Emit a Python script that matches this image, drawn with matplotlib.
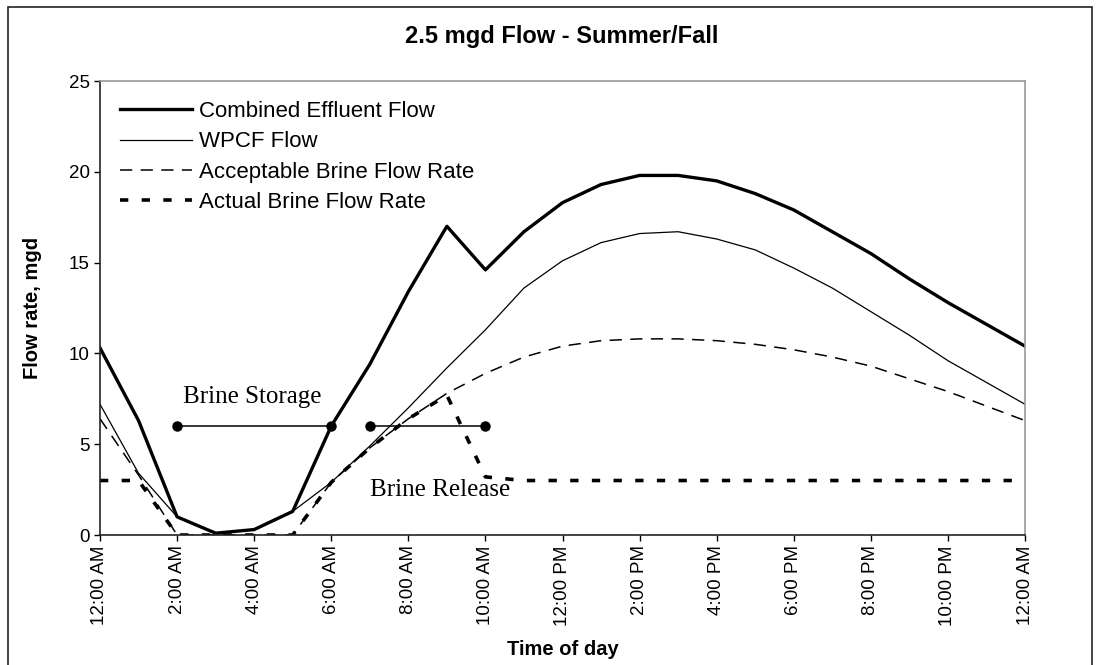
import matplotlib
matplotlib.use('Agg')
import matplotlib.pyplot as plt
from matplotlib.patches import Rectangle

plt.rcParams['font.family'] = ['Liberation Sans', 'DejaVu Sans']

# 数据: 每小时流量 (mgd)
hours = list(range(25))
combined_flow = [10.3, 6.3, 1.0, 0.1, 0.3, 1.3, 6.0, 9.4, 13.4, 17.0, 14.6, 16.7, 18.3,
                 19.3, 19.8, 19.8, 19.5, 18.8, 17.9, 16.7, 15.5, 14.1, 12.8, 11.6, 10.4]
wpcf_flow = [7.2, 3.4, 1.0, 0.1, 0.3, 1.3, 2.9, 4.9, 7.0, 9.2, 11.3, 13.6, 15.1,
             16.1, 16.6, 16.7, 16.3, 15.7, 14.7, 13.6, 12.3, 11.0, 9.6, 8.4, 7.2]
acceptable_brine = [6.4, 3.3, 0.0, 0.0, 0.0, 0.0, 2.9, 4.8, 6.4, 7.8, 8.9, 9.8, 10.4,
                    10.7, 10.8, 10.8, 10.7, 10.5, 10.2, 9.8, 9.3, 8.6, 7.9, 7.1, 6.3]
actual_brine = [3.0, 3.0, 0.0, 0.0, 0.0, 0.0, 2.9, 4.8, 6.4, 7.7, 3.2, 3.0, 3.0,
                3.0, 3.0, 3.0, 3.0, 3.0, 3.0, 3.0, 3.0, 3.0, 3.0, 3.0, 3.0]

tick_hours = list(range(0, 25, 2))
tick_labels = ['12:00 AM', '2:00 AM', '4:00 AM', '6:00 AM', '8:00 AM', '10:00 AM',
               '12:00 PM', '2:00 PM', '4:00 PM', '6:00 PM', '8:00 PM', '10:00 PM', '12:00 AM']

# 储存 / 释放 区间
storage_span = [2, 6]
release_span = [7, 10]
span_level = 6

fig = plt.figure(figsize=(10.97, 6.65), dpi=100)
ax = fig.add_axes([100 / 1097, 1 - 535 / 665, 925 / 1097, 454 / 665])

ax.plot(hours, combined_flow, color='black', lw=2.4, label='Combined Effluent Flow')
ax.plot(hours, wpcf_flow, color='black', lw=0.9, label='WPCF Flow')
ax.plot(hours, acceptable_brine, color='black', lw=1.1, dashes=(8, 5.5),
        label='Acceptable Brine Flow Rate')
ax.plot(hours, actual_brine, color='black', lw=2.6, dashes=(2.3, 3.7),
        label='Actual Brine Flow Rate')

# 标注线
for span in (storage_span, release_span):
    ax.plot(span, [span_level, span_level], color='black', lw=1.1,
            marker='o', markersize=6.5, zorder=5)
ax.text(3.95, 7.6, 'Brine Storage', family='Liberation Serif', fontsize=18,
        ha='center', va='center')
ax.text(8.82, 2.48, 'Brine Release', family='Liberation Serif', fontsize=18,
        ha='center', va='center')

# 坐标轴
ax.set_xlim(0, 24)
ax.set_ylim(0, 25)
ax.set_xticks(tick_hours)
ax.set_xticklabels(tick_labels, rotation=90, fontsize=13.5)
ax.set_yticks(range(0, 26, 5))
ax.tick_params(axis='y', labelsize=13.5, direction='out', length=4, width=1)
ax.tick_params(axis='x', direction='out', length=4, width=1)
for side in ['left', 'bottom']:
    ax.spines[side].set_color('#222222')
    ax.spines[side].set_linewidth(1.2)
for side in ['top', 'right']:
    ax.spines[side].set_color('#999999')
    ax.spines[side].set_linewidth(1.2)

ax.set_xlabel('Time of day', fontsize=14.5, fontweight='bold')
ax.set_ylabel('Flow rate, mgd', fontsize=14.5, fontweight='bold')
ax.xaxis.set_label_coords(0.5, -0.231)
ax.yaxis.set_label_coords(-0.0627, 0.5)

fig.text(562 / 1097, 1 - 37 / 665, '2.5 mgd Flow - Summer/Fall', fontsize=17,
         fontweight='bold', ha='center', va='center')

leg = ax.legend(loc='upper left', bbox_to_anchor=(0.0, 1.0), frameon=False,
                fontsize=16, handlelength=3.25, handletextpad=0.3, labelspacing=0.42,
                borderaxespad=0.3, borderpad=0.6)

# 外框
fig.patches.append(Rectangle((8 / 1097, -0.01), 1084 / 1097, 1.01 - 7 / 665,
                             transform=fig.transFigure, fill=False,
                             edgecolor='#222222', lw=1.2))

fig.savefig('out.png', dpi=100)
